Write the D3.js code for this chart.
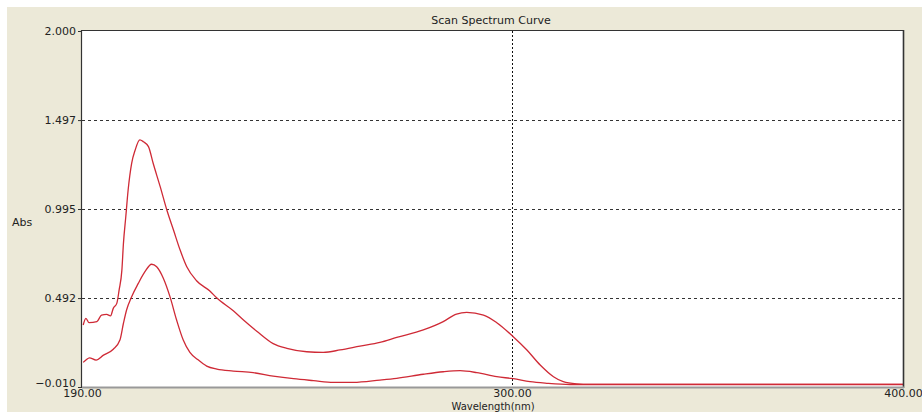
<!DOCTYPE html>
<html>
<head>
<meta charset="utf-8">
<script src="https://cdn.jsdelivr.net/npm/d3@7"></script>
<style>
  html, body { margin: 0; padding: 0; background: #ffffff; }
  svg { display: block; }
  text { font-family: "DejaVu Sans", "Liberation Sans", sans-serif; fill: #222; }
</style>
</head>
<body>
<svg id="chart" width="922" height="412"></svg>
<script>
// Scan range and axis labels
const xDomain = [190, 400];
const yDomain = [-0.010, 2.000];
const yTicks = [2.000, 1.497, 0.995, 0.492, -0.010];
const yGrid = [1.497, 0.995, 0.492];
const xTickLabels = ["190.00", "300.00", "400.00"];
const xTickValues = [190, 300, 400];
const xGrid = [300];

// Scan 1 (higher concentration): wavelength (nm), absorbance
const scan1Wavelength = [190.3, 191.0, 191.8, 193.8, 195.0, 196.3, 197.3, 198.0, 198.9, 199.5, 200.2, 200.6, 201.2, 201.8, 202.7, 203.6, 204.8, 205.7, 207.0, 208.2, 210.0, 211.7, 213.4, 215.1, 216.8, 219.3, 222.7, 224.5, 228.7, 231.3, 234.7, 238.9, 242.4, 247.5, 251.7, 256.0, 261.1, 266.2, 270.5, 277.3, 282.4, 285.8, 288.4, 292.7, 296.1, 300.3, 303.8, 307.2, 310.6, 313.1, 316.5, 319.9, 340.0, 370.0, 400.0];
const scan1Abs = [0.340, 0.378, 0.353, 0.359, 0.396, 0.400, 0.392, 0.434, 0.462, 0.538, 0.650, 0.801, 0.951, 1.102, 1.253, 1.328, 1.385, 1.375, 1.347, 1.253, 1.121, 0.989, 0.876, 0.763, 0.669, 0.590, 0.532, 0.492, 0.420, 0.368, 0.305, 0.235, 0.208, 0.189, 0.186, 0.199, 0.221, 0.242, 0.270, 0.312, 0.359, 0.402, 0.411, 0.396, 0.353, 0.274, 0.199, 0.114, 0.048, 0.020, 0.008, 0.005, 0.005, 0.005, 0.005];

// Scan 2 (lower concentration): wavelength (nm), absorbance
const scan2Wavelength = [190.3, 191.0, 191.9, 193.6, 195.5, 198.0, 199.7, 200.6, 201.4, 202.7, 204.4, 206.1, 207.8, 209.1, 210.8, 212.5, 214.2, 215.9, 217.6, 219.6, 221.9, 224.5, 228.7, 233.8, 238.9, 244.1, 249.2, 254.3, 259.4, 266.2, 270.5, 277.3, 282.4, 286.7, 291.0, 296.1, 300.3, 304.6, 308.9, 314.8, 340.0, 370.0, 400.0];
const scan2Abs = [0.129, 0.142, 0.155, 0.142, 0.170, 0.203, 0.255, 0.350, 0.425, 0.500, 0.575, 0.641, 0.683, 0.669, 0.604, 0.500, 0.368, 0.255, 0.185, 0.145, 0.108, 0.091, 0.080, 0.071, 0.052, 0.037, 0.026, 0.016, 0.016, 0.029, 0.039, 0.062, 0.076, 0.082, 0.071, 0.048, 0.037, 0.020, 0.011, 0.004, 0.004, 0.004, 0.004];

(function () {
  const svg = d3.select("#chart");

  // Window panel
  svg.append("rect").attr("x", 7).attr("y", 7).attr("width", 915).attr("height", 405)
    .attr("fill", "#ECE9D8");

  const plotLeft = 82, plotRight = 903, plotTop = 31, plotBottom = 387;
  const x = d3.scaleLinear().domain(xDomain).range([plotLeft, plotRight]);
  const y = d3.scaleLinear().domain(yDomain).range([plotBottom, plotTop]);

  // Plot area
  svg.append("rect").attr("x", plotLeft).attr("y", plotTop)
    .attr("width", plotRight - plotLeft).attr("height", plotBottom - plotTop).attr("fill", "#ffffff");

  // Grid lines
  svg.append("g").selectAll("line").data(yGrid).join("line")
    .attr("x1", plotLeft).attr("x2", plotRight)
    .attr("y1", d => Math.round(y(d)) + 0.5).attr("y2", d => Math.round(y(d)) + 0.5)
    .attr("stroke", "#333").attr("stroke-width", 1).attr("stroke-dasharray", "3,3");
  svg.append("g").selectAll("line").data(xGrid).join("line")
    .attr("x1", d => Math.round(x(d)) + 0.5).attr("x2", d => Math.round(x(d)) + 0.5)
    .attr("y1", plotTop).attr("y2", plotBottom)
    .attr("stroke", "#111").attr("stroke-width", 1).attr("stroke-dasharray", "2,2");

  // Spectra
  const line = d3.line().x(d => x(d[0])).y(d => y(d[1])).curve(d3.curveMonotoneX);
  const scan1 = scan1Wavelength.map((w, i) => [w, scan1Abs[i]]);
  const scan2 = scan2Wavelength.map((w, i) => [w, scan2Abs[i]]);
  [scan1, scan2].forEach(s => {
    svg.append("path").datum(s).attr("d", line)
      .attr("fill", "none").attr("stroke", "#cf2a36").attr("stroke-width", 1.3);
  });

  // Frame
  svg.append("line").attr("x1", plotLeft - 0.5).attr("x2", plotLeft - 0.5)
    .attr("y1", plotTop - 1).attr("y2", plotBottom + 1)
    .attr("stroke", "#333").attr("stroke-width", 1.2);
  svg.append("line").attr("x1", plotLeft - 1).attr("x2", plotRight + 1)
    .attr("y1", plotTop - 0.5).attr("y2", plotTop - 0.5)
    .attr("stroke", "#333").attr("stroke-width", 1.2);
  svg.append("line").attr("x1", plotRight + 0.5).attr("x2", plotRight + 0.5)
    .attr("y1", plotTop - 1).attr("y2", plotBottom + 1)
    .attr("stroke", "#333").attr("stroke-width", 1.6);
  svg.append("line").attr("x1", plotLeft).attr("x2", plotRight + 1)
    .attr("y1", plotBottom + 0.5).attr("y2", plotBottom + 0.5)
    .attr("stroke", "#999").attr("stroke-width", 2);

  // Y axis labels
  const yAxis = d3.axisLeft(y).tickValues(yTicks).tickFormat(d3.format(".3f"))
    .tickSize(4).tickPadding(2);
  const gy = svg.append("g").attr("transform", `translate(${plotLeft},0)`).call(yAxis);
  gy.select(".domain").remove();
  gy.selectAll(".tick line").attr("stroke", "#333");
  gy.selectAll(".tick text").attr("font-size", "11px").attr("fill", "#222")
    .style("font-family", "'DejaVu Sans', sans-serif");
  // lift the bottom label clear of the wavelength labels
  gy.selectAll(".tick").filter(d => d === yDomain[0]).select("text").attr("y", -4);

  // X axis labels
  const xAxis = d3.axisBottom(x).tickValues(xTickValues)
    .tickFormat((d, i) => xTickLabels[i]).tickSize(0).tickPadding(2);
  const gx = svg.append("g").attr("transform", `translate(0,${plotBottom})`).call(xAxis);
  gx.select(".domain").remove();
  gx.selectAll(".tick text").attr("font-size", "11px").attr("fill", "#222")
    .style("font-family", "'DejaVu Sans', sans-serif");

  // Titles
  svg.append("text").attr("x", 491).attr("y", 24).attr("text-anchor", "middle")
    .attr("font-size", "11px").text("Scan Spectrum Curve");
  svg.append("text").attr("x", 493).attr("y", 410).attr("text-anchor", "middle")
    .attr("font-size", "10px").text("Wavelength(nm)");
  svg.append("text").attr("x", 12).attr("y", 226).attr("text-anchor", "start")
    .attr("font-size", "11px").text("Abs");
})();
</script>
</body>
</html>
